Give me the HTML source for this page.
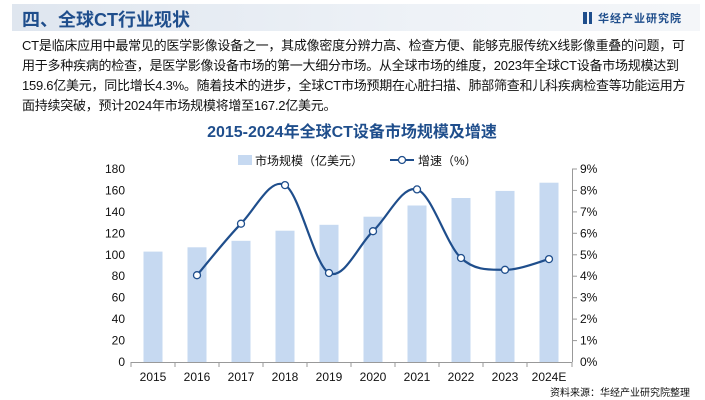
<!DOCTYPE html>
<html><head><meta charset="utf-8"><style>
body{margin:0;width:705px;height:400px;background:#fff;overflow:hidden;font-family:"Liberation Sans","Noto Sans CJK SC",sans-serif;position:relative}
.hdr{position:absolute;left:12px;top:4px;width:688px;height:27px;background:linear-gradient(90deg,#dfe6ef,#eef2f7 60%,#f4f6f9)}
.hdr .t{position:absolute;left:10px;top:2px;font-size:18px;font-weight:bold;color:#1f4e8c}
.hdr .l{position:absolute;right:18px;top:6px;font-size:11px;font-weight:bold;color:#1f4e8c;letter-spacing:1px}
.p{position:absolute;left:22px;top:36px;width:680px;font-size:13px;line-height:20px;color:#111;white-space:nowrap;letter-spacing:-0.25px}
</style></head><body>
<div class="hdr"><div class="t">四、全球CT行业现状</div><div class="l"><span style="display:inline-block;width:4px;height:12px;background:#1f4e8c;margin-right:2px;vertical-align:-2px"></span><span style="display:inline-block;width:3px;height:12px;background:#1f4e8c;margin-right:6px;vertical-align:-2px"></span>华经产业研究院</div></div>
<div class="p">CT是临床应用中最常见的医学影像设备之一，其成像密度分辨力高、检查方便、能够克服传统X线影像重叠的问题，可<br>用于多种疾病的检查，是医学影像设备市场的第一大细分市场。从全球市场的维度，2023年全球CT设备市场规模达到<br>159.6亿美元，同比增长4.3%。随着技术的进步，全球CT市场预期在心脏扫描、肺部筛查和儿科疾病检查等功能运用方<br>面持续突破，预计2024年市场规模将增至167.2亿美元。</div>
<svg width="705" height="400" style="position:absolute;left:0;top:0" font-family="Liberation Sans, Noto Sans CJK SC, sans-serif">
<text x="352" y="137" text-anchor="middle" font-size="16" font-weight="bold" fill="#1f4e8c">2015-2024年全球CT设备市场规模及增速</text>
<rect x="238" y="155" width="14" height="10" fill="#c6d9f1"/>
<text x="255" y="165" font-size="12" fill="#111">市场规模（亿美元）</text>
<line x1="390" y1="160" x2="414" y2="160" stroke="#1f4e8c" stroke-width="2"/>
<circle cx="402" cy="160" r="3.5" fill="#fff" stroke="#1f4e8c" stroke-width="1.3"/>
<text x="418" y="165" font-size="12" fill="#111">增速（%）</text>
<g fill="#c6d9f1">
<rect x="143.5" y="251.6" width="19" height="110.4"/>
<rect x="187.5" y="247.3" width="19" height="114.7"/>
<rect x="231.5" y="240.8" width="19" height="121.2"/>
<rect x="275.5" y="230.7" width="19" height="131.3"/>
<rect x="319.5" y="224.8" width="19" height="137.2"/>
<rect x="363.5" y="216.7" width="19" height="145.3"/>
<rect x="407.5" y="205.5" width="19" height="156.5"/>
<rect x="451.5" y="198" width="19" height="164"/>
<rect x="495.5" y="190.9" width="19" height="171.1"/>
<rect x="539.5" y="182.7" width="19" height="179.3"/>
</g>
<g stroke="#999" stroke-width="1">
<line x1="131" y1="362.5" x2="572" y2="362.5"/>
<line x1="572.5" y1="169" x2="572.5" y2="362"/>
<g>
<line x1="131" y1="362" x2="131" y2="367"/><line x1="175" y1="362" x2="175" y2="367"/><line x1="219" y1="362" x2="219" y2="367"/><line x1="263" y1="362" x2="263" y2="367"/><line x1="307" y1="362" x2="307" y2="367"/><line x1="351" y1="362" x2="351" y2="367"/><line x1="395" y1="362" x2="395" y2="367"/><line x1="439" y1="362" x2="439" y2="367"/><line x1="483" y1="362" x2="483" y2="367"/><line x1="527" y1="362" x2="527" y2="367"/><line x1="572" y1="362" x2="572" y2="367"/>
</g>
<g>
<line x1="572" y1="169" x2="577" y2="169"/><line x1="572" y1="190.4" x2="577" y2="190.4"/><line x1="572" y1="211.9" x2="577" y2="211.9"/><line x1="572" y1="233.3" x2="577" y2="233.3"/><line x1="572" y1="254.8" x2="577" y2="254.8"/><line x1="572" y1="276.2" x2="577" y2="276.2"/><line x1="572" y1="297.7" x2="577" y2="297.7"/><line x1="572" y1="319.1" x2="577" y2="319.1"/><line x1="572" y1="340.6" x2="577" y2="340.6"/>
</g>
</g>
<g font-size="12" fill="#111" text-anchor="end">
<text x="125" y="173">180</text><text x="125" y="194.4">160</text><text x="125" y="215.9">140</text><text x="125" y="237.3">120</text><text x="125" y="258.8">100</text><text x="125" y="280.2">80</text><text x="125" y="301.7">60</text><text x="125" y="323.1">40</text><text x="125" y="344.6">20</text><text x="125" y="366">0</text>
</g>
<g font-size="12" fill="#111">
<text x="580" y="173">9%</text><text x="580" y="194.4">8%</text><text x="580" y="215.9">7%</text><text x="580" y="237.3">6%</text><text x="580" y="258.8">5%</text><text x="580" y="280.2">4%</text><text x="580" y="301.7">3%</text><text x="580" y="323.1">2%</text><text x="580" y="344.6">1%</text><text x="580" y="366">0%</text>
</g>
<g font-size="12" fill="#111" text-anchor="middle">
<text x="153" y="381">2015</text><text x="197" y="381">2016</text><text x="241" y="381">2017</text><text x="285" y="381">2018</text><text x="329" y="381">2019</text><text x="373" y="381">2020</text><text x="417" y="381">2021</text><text x="461" y="381">2022</text><text x="505" y="381">2023</text><text x="549" y="381">2024E</text>
</g>
<path d="M197,275.2 C204.3,266.6 226.3,238.7 241,223.7 C255.7,208.7 270.3,176.9 285,185.1 C299.7,193.3 314.3,265.3 329,273 C343.7,280.7 358.3,245.1 373,231.2 C387.7,217.3 402.3,184.9 417,189.4 C431.7,193.9 446.3,244.6 461,258 C475.7,271.4 490.3,269.6 505,269.8 C519.7,270 541.7,260.9 549,259.1" fill="none" stroke="#1f4e8c" stroke-width="2.2"/>
<g fill="#fff" stroke="#1f4e8c" stroke-width="1.3">
<circle cx="197" cy="275.2" r="3.5"/><circle cx="241" cy="223.7" r="3.5"/><circle cx="285" cy="185.1" r="3.5"/><circle cx="329" cy="273" r="3.5"/><circle cx="373" cy="231.2" r="3.5"/><circle cx="417" cy="189.4" r="3.5"/><circle cx="461" cy="258" r="3.5"/><circle cx="505" cy="269.8" r="3.5"/><circle cx="549" cy="259.1" r="3.5"/>
</g>
<text x="690" y="396" text-anchor="end" font-size="10" fill="#111">资料来源：华经产业研究院整理</text>
</svg>
</body></html>
